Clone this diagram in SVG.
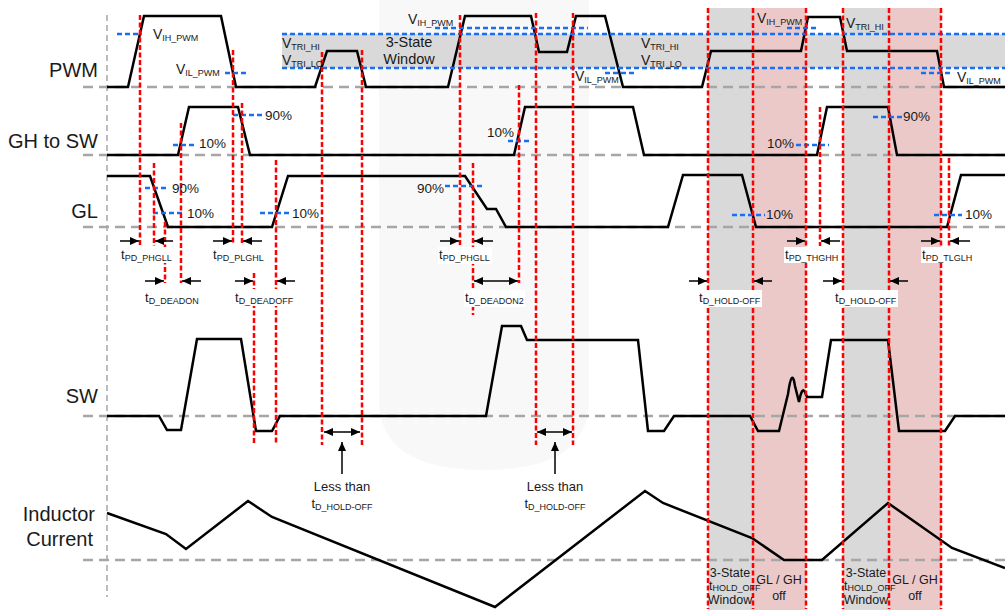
<svg xmlns="http://www.w3.org/2000/svg" width="1005" height="614" viewBox="0 0 1005 614">
<defs>
<marker id="ah" markerUnits="userSpaceOnUse" markerWidth="9" markerHeight="8" refX="9" refY="4" orient="auto-start-reverse">
<path d="M0,0 L9,4 L0,8 Z" fill="#000"/>
</marker>
</defs>
<style>
.wave{fill:none;stroke:#000;stroke-width:2.5;stroke-linejoin:miter}
.base{fill:none;stroke:#a6a6a6;stroke-width:2.5;stroke-dasharray:10 6}
.axis{fill:none;stroke:#999;stroke-width:1.3;stroke-dasharray:6 4}
.red{fill:none;stroke:#ff0000;stroke-width:2.5;stroke-dasharray:5 2.5}
.blue{fill:none;stroke:#1a6ff0;stroke-width:2.5;stroke-dasharray:5 3}
.arr{fill:none;stroke:#000;stroke-width:1.5;marker-end:url(#ah)}
.darr{fill:none;stroke:#000;stroke-width:1.5;marker-end:url(#ah);marker-start:url(#ah)}
.box{fill:#fff}
text{font-family:"Liberation Sans",Arial,sans-serif;fill:#1a1a1a}
.lbl{font-size:20px}
.v{font-size:14px}
.p{font-size:13.5px}
.t{font-size:13px}
.sb{font-size:9px}
.sm{font-size:12.5px}
.win{font-size:14.5px}
</style>
<rect width="1005" height="614" fill="#fff"/>
<g id="watermark">
<path d="M379,0 V400 Q379,470 484,470 Q589,470 589,400 V0 Z" fill="#f8f8f8"/>
</g>
<g id="regions">
<rect x="282" y="34" width="723" height="34" fill="#d9d9d9"/>
<rect x="708" y="8" width="45" height="602" fill="#d9d9d9"/>
<rect x="843" y="8" width="46" height="602" fill="#d9d9d9"/>
<rect x="753" y="8" width="53" height="602" fill="#ecc9c9"/>
<rect x="889" y="8" width="52" height="602" fill="#ecc9c9"/>
</g>
<g id="baselines">
<line class="axis" x1="107" y1="15" x2="107" y2="597"/>
<line class="base" x1="83" y1="87" x2="1005" y2="87"/>
<line class="base" x1="83" y1="155" x2="1005" y2="155"/>
<line class="base" x1="83" y1="227" x2="1005" y2="227"/>
<line class="base" x1="83" y1="416" x2="1005" y2="416"/>
<line class="base" x1="83" y1="560" x2="1005" y2="560"/>
</g>
<g id="waveforms">
<path id="pwm" class="wave" d="M107,87 H128 L144,16 H221 L236,87 H315 L327,51 H357 L366,87 H448 L465,16 H531 L539,52 H567 L576,16 H605 L623,87 H702 L711,51 H801 L808,17 H840 L847,51 H937 L944,87 H1005"/>
<path id="gh" class="wave" d="M107,155 H178 L189,107 H238 L250,155 H514 L525,107 H633 L644,155 H817 L827,107 H888 L897,155 H1005"/>
<path id="gl" class="wave" d="M107,176 H150 L168,227 H272 L288,176 H465 L487,209 H496 L506,227 H668 L683,175 H742 L756,227 H947 L961,175 H1005"/>
<path id="sw" class="wave" d="M107,416 H159 L167,430 H181 L197,339 H241 L256,431 H272 L280,416 H486 L502,326 H521 L527,340 H638 L648,431 H664 L674,416 H750 L758,431 H779 L788,394 Q792,366 795,386 L799,402 Q802,386 805,392 L807,397 H822 L831,340 H888 L899,431 H945 L955,416 H1005"/>
<path id="inductor" class="wave" d="M107,513 L166,534 L186,549 L248,501 L272,517 L495,607 L645,491 L663,503 L752,538 L784,560 H822 L888,503 L952,548 L1005,568"/>
</g>
<g id="thresholds">
<line class="blue" x1="282" y1="34" x2="1005" y2="34"/>
<line class="blue" x1="282" y1="68" x2="1005" y2="68"/>
<line class="blue" x1="117" y1="34" x2="142" y2="34"/>
<line class="blue" x1="225" y1="73" x2="248" y2="73"/>
<line class="blue" x1="435" y1="28" x2="588" y2="28"/>
<line class="blue" x1="605" y1="73" x2="637" y2="73"/>
<line class="blue" x1="787" y1="28" x2="816" y2="28"/>
<line class="blue" x1="921" y1="73" x2="950" y2="73"/>
<line class="blue" x1="233" y1="115" x2="263" y2="115"/>
<line class="blue" x1="173" y1="145" x2="197" y2="145"/>
<line class="blue" x1="508" y1="141" x2="532" y2="141"/>
<line class="blue" x1="796" y1="145" x2="829" y2="145"/>
<line class="blue" x1="873" y1="117" x2="902" y2="117"/>
<line class="blue" x1="145" y1="188" x2="168" y2="188"/>
<line class="blue" x1="153" y1="213" x2="185" y2="213"/>
<line class="blue" x1="260" y1="213" x2="290" y2="213"/>
<line class="blue" x1="445" y1="186" x2="483" y2="186"/>
<line class="blue" x1="732" y1="215" x2="765" y2="215"/>
<line class="blue" x1="934" y1="215" x2="962" y2="215"/>
</g>
<g id="markers">
<line class="red" x1="140" y1="15" x2="140" y2="246"/>
<line class="red" x1="154" y1="163" x2="154" y2="246"/>
<line class="red" x1="165" y1="222" x2="165" y2="283"/>
<line class="red" x1="181" y1="123" x2="181" y2="283"/>
<line class="red" x1="233" y1="50" x2="233" y2="245"/>
<line class="red" x1="242" y1="103" x2="242" y2="245"/>
<line class="red" x1="254" y1="273" x2="254" y2="445"/>
<line class="red" x1="276" y1="160" x2="276" y2="445"/>
<line class="red" x1="322" y1="52" x2="322" y2="445"/>
<line class="red" x1="362" y1="50" x2="362" y2="445"/>
<line class="red" x1="460" y1="15" x2="460" y2="246"/>
<line class="red" x1="473" y1="163" x2="473" y2="315"/>
<line class="red" x1="519" y1="85" x2="519" y2="283"/>
<line class="red" x1="536" y1="13" x2="536" y2="445"/>
<line class="red" x1="573" y1="13" x2="573" y2="445"/>
<line class="red" x1="708" y1="8" x2="708" y2="609"/>
<line class="red" x1="753" y1="8" x2="753" y2="609"/>
<line class="red" x1="806" y1="8" x2="806" y2="609"/>
<line class="red" x1="820" y1="107" x2="820" y2="246"/>
<line class="red" x1="843" y1="8" x2="843" y2="609"/>
<line class="red" x1="889" y1="8" x2="889" y2="609"/>
<line class="red" x1="941" y1="8" x2="941" y2="609"/>
<line class="red" x1="949" y1="158" x2="949" y2="246"/>
</g>
<g id="connectors">
<line class="arr" x1="120" y1="241" x2="139" y2="241"/>
<line class="arr" x1="173" y1="241" x2="155" y2="241"/>
<line class="arr" x1="213" y1="241" x2="232" y2="241"/>
<line class="arr" x1="262" y1="241" x2="243" y2="241"/>
<line class="arr" x1="440" y1="241" x2="459" y2="241"/>
<line class="arr" x1="493" y1="241" x2="474" y2="241"/>
<line class="arr" x1="787" y1="241" x2="805" y2="241"/>
<line class="arr" x1="840" y1="241" x2="821" y2="241"/>
<line class="arr" x1="921" y1="241" x2="940" y2="241"/>
<line class="arr" x1="970" y1="241" x2="950" y2="241"/>
<line class="arr" x1="145" y1="281" x2="164" y2="281"/>
<line class="arr" x1="201" y1="281" x2="182" y2="281"/>
<line class="arr" x1="235" y1="281" x2="253" y2="281"/>
<line class="arr" x1="295" y1="281" x2="277" y2="281"/>
<line class="darr" x1="474" y1="281" x2="518" y2="281"/>
<line class="arr" x1="689" y1="281" x2="707" y2="281"/>
<line class="arr" x1="772" y1="281" x2="754" y2="281"/>
<line class="arr" x1="823" y1="281" x2="842" y2="281"/>
<line class="arr" x1="908" y1="281" x2="890" y2="281"/>
<line class="darr" x1="324" y1="432" x2="360" y2="432"/>
<line class="darr" x1="537" y1="432" x2="572" y2="432"/>
<line class="arr" x1="342" y1="474" x2="342" y2="442"/>
<line class="arr" x1="555" y1="474" x2="555" y2="442"/>
</g>
<g id="label-boxes">
<rect class="box" x="120" y="247" width="54" height="16"/>
<rect class="box" x="438" y="247" width="54" height="17"/>
<rect class="box" x="784" y="247" width="55" height="16"/>
<rect class="box" x="921" y="247" width="52" height="16"/>
<rect class="box" x="234" y="289" width="62" height="17"/>
<rect class="box" x="464" y="290" width="61" height="17"/>
<rect class="box" x="698" y="290" width="64" height="17"/>
<rect class="box" x="833" y="290" width="65" height="17"/>
</g>
<g id="signal-labels">
<text class="lbl" x="98" y="77" text-anchor="end">PWM</text>
<text class="lbl" x="98" y="148" text-anchor="end">GH to SW</text>
<text class="lbl" x="98" y="218" text-anchor="end">GL</text>
<text class="lbl" x="98" y="403" text-anchor="end">SW</text>
<text class="lbl" x="95" y="521" text-anchor="end">Inductor</text>
<text class="lbl" x="93" y="546" text-anchor="end">Current</text>
</g>
<g id="pwm-labels">
<text class="v" x="153" y="39">V<tspan class="sb" dy="2">IH_PWM</tspan></text>
<text class="v" x="176" y="74">V<tspan class="sb" dy="2">IL_PWM</tspan></text>
<text class="v" x="282" y="48">V<tspan class="sb" dy="2">TRI_HI</tspan></text>
<text class="v" x="282" y="65">V<tspan class="sb" dy="2">TRI_LO</tspan></text>
<text class="win" x="409" y="47" text-anchor="middle">3-State</text>
<text class="win" x="409" y="64" text-anchor="middle">Window</text>
<text class="v" x="408" y="24">V<tspan class="sb" dy="2">IH_PWM</tspan></text>
<text class="v" x="641" y="48">V<tspan class="sb" dy="2">TRI_HI</tspan></text>
<text class="v" x="641" y="65">V<tspan class="sb" dy="2">TRI_LO</tspan></text>
<text class="v" x="575" y="81">V<tspan class="sb" dy="2">IL_PWM</tspan></text>
<text class="v" x="757" y="23">V<tspan class="sb" dy="2">IH_PWM</tspan></text>
<text class="v" x="846" y="28">V<tspan class="sb" dy="2">TRI_HI</tspan></text>
<text class="v" x="957" y="82">V<tspan class="sb" dy="2">IL_PWM</tspan></text>
</g>
<g id="percent-labels">
<text class="p" x="265" y="120">90%</text>
<text class="p" x="199" y="148">10%</text>
<text class="p" x="172" y="193">90%</text>
<text class="p" x="187" y="218">10%</text>
<text class="p" x="292" y="218">10%</text>
<text class="p" x="487" y="137">10%</text>
<text class="p" x="417" y="193">90%</text>
<text class="p" x="767" y="148">10%</text>
<text class="p" x="903" y="121">90%</text>
<text class="p" x="766" y="219">10%</text>
<text class="p" x="965" y="219">10%</text>
</g>
<g id="timing-labels">
<text class="t" x="121" y="259">t<tspan class="sb" dy="1.5">PD_PHGLL</tspan></text>
<text class="t" x="213" y="259">t<tspan class="sb" dy="1.5">PD_PLGHL</tspan></text>
<text class="t" x="439" y="259">t<tspan class="sb" dy="1.5">PD_PHGLL</tspan></text>
<text class="t" x="785" y="259">t<tspan class="sb" dy="1.5">PD_THGHH</tspan></text>
<text class="t" x="922" y="259">t<tspan class="sb" dy="1.5">PD_TLGLH</tspan></text>
<text class="t" x="145" y="302">t<tspan class="sb" dy="1.5">D_DEADON</tspan></text>
<text class="t" x="235" y="302">t<tspan class="sb" dy="1.5">D_DEADOFF</tspan></text>
<text class="t" x="465" y="302">t<tspan class="sb" dy="1.5">D_DEADON2</tspan></text>
<text class="t" x="699" y="302">t<tspan class="sb" dy="1.5">D_HOLD-OFF</tspan></text>
<text class="t" x="835" y="302">t<tspan class="sb" dy="1.5">D_HOLD-OFF</tspan></text>
<text class="t" x="342" y="491" text-anchor="middle">Less than</text>
<text class="t" x="342" y="508" text-anchor="middle">t<tspan class="sb" dy="1.5">D_HOLD-OFF</tspan></text>
<text class="t" x="555" y="491" text-anchor="middle">Less than</text>
<text class="t" x="555" y="508" text-anchor="middle">t<tspan class="sb" dy="1.5">D_HOLD-OFF</tspan></text>
</g>
<g id="window-labels">
<text class="sm" x="730" y="577" text-anchor="middle">3-State</text>
<text class="sm" x="709" y="590">t<tspan class="sb" dy="1">HOLD_OFF</tspan></text>
<text class="sm" x="730" y="604" text-anchor="middle">Window</text>
<text class="sm" x="779" y="584" text-anchor="middle">GL / GH</text>
<text class="sm" x="779" y="600" text-anchor="middle">off</text>
<text class="sm" x="866" y="577" text-anchor="middle">3-State</text>
<text class="sm" x="844" y="590">t<tspan class="sb" dy="1">HOLD_OFF</tspan></text>
<text class="sm" x="866" y="604" text-anchor="middle">Window</text>
<text class="sm" x="915" y="584" text-anchor="middle">GL / GH</text>
<text class="sm" x="915" y="600" text-anchor="middle">off</text>
</g>
</svg>
